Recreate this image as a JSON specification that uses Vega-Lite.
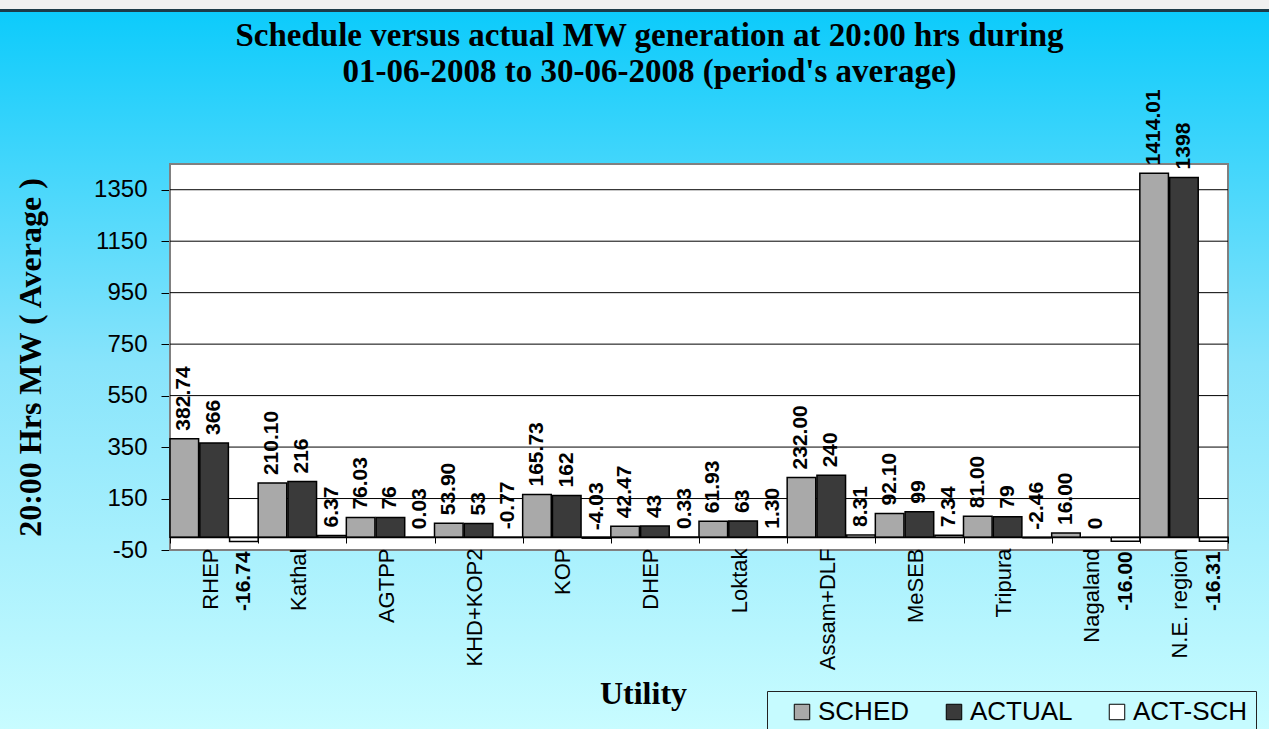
{
  "$schema": "https://vega.github.io/schema/vega-lite/v6.json",
  "width": 1269,
  "height": 729,
  "autosize": {"type": "none"},
  "padding": 0,
  "background": "#ffffff",
  "title": {
    "text": ["Schedule versus actual MW generation at 20:00 hrs during", "01-06-2008 to 30-06-2008 (period's average)"],
    "font": "Liberation Serif",
    "fontSize": 33,
    "fontWeight": "bold",
    "color": "black",
    "anchor": "middle",
    "frame": "group",
    "dx": 15,
    "lineHeight": 36,
    "offset": -89
  },
  "data": {"values": [
    {"utility": "RHEP", "series": "SCHED", "value": 382.74},
    {"utility": "RHEP", "series": "ACTUAL", "value": 366},
    {"utility": "RHEP", "series": "ACT-SCH", "value": -16.74},
    {"utility": "Kathal", "series": "SCHED", "value": 210.10},
    {"utility": "Kathal", "series": "ACTUAL", "value": 216},
    {"utility": "Kathal", "series": "ACT-SCH", "value": 6.37},
    {"utility": "AGTPP", "series": "SCHED", "value": 76.03},
    {"utility": "AGTPP", "series": "ACTUAL", "value": 76},
    {"utility": "AGTPP", "series": "ACT-SCH", "value": 0.03},
    {"utility": "KHD+KOP2", "series": "SCHED", "value": 53.90},
    {"utility": "KHD+KOP2", "series": "ACTUAL", "value": 53},
    {"utility": "KHD+KOP2", "series": "ACT-SCH", "value": -0.77},
    {"utility": "KOP", "series": "SCHED", "value": 165.73},
    {"utility": "KOP", "series": "ACTUAL", "value": 162},
    {"utility": "KOP", "series": "ACT-SCH", "value": -4.03},
    {"utility": "DHEP", "series": "SCHED", "value": 42.47},
    {"utility": "DHEP", "series": "ACTUAL", "value": 43},
    {"utility": "DHEP", "series": "ACT-SCH", "value": 0.33},
    {"utility": "Loktak", "series": "SCHED", "value": 61.93},
    {"utility": "Loktak", "series": "ACTUAL", "value": 63},
    {"utility": "Loktak", "series": "ACT-SCH", "value": 1.30},
    {"utility": "Assam+DLF", "series": "SCHED", "value": 232.00},
    {"utility": "Assam+DLF", "series": "ACTUAL", "value": 240},
    {"utility": "Assam+DLF", "series": "ACT-SCH", "value": 8.31},
    {"utility": "MeSEB", "series": "SCHED", "value": 92.10},
    {"utility": "MeSEB", "series": "ACTUAL", "value": 99},
    {"utility": "MeSEB", "series": "ACT-SCH", "value": 7.34},
    {"utility": "Tripura", "series": "SCHED", "value": 81.00},
    {"utility": "Tripura", "series": "ACTUAL", "value": 79},
    {"utility": "Tripura", "series": "ACT-SCH", "value": -2.46},
    {"utility": "Nagaland", "series": "SCHED", "value": 16.00},
    {"utility": "Nagaland", "series": "ACTUAL", "value": 0},
    {"utility": "Nagaland", "series": "ACT-SCH", "value": -16.00},
    {"utility": "N.E. region", "series": "SCHED", "value": 1414.01},
    {"utility": "N.E. region", "series": "ACTUAL", "value": 1398},
    {"utility": "N.E. region", "series": "ACT-SCH", "value": -16.31}
  ]},
  "layer": [
    {
      "data": {"values": [{"frame": "plot"}]},
      "mark": {"type": "rect", "fill": "white", "stroke": "#808080", "strokeWidth": 2},
      "encoding": {
        "x": {"datum": "RHEP", "type": "nominal", "bandPosition": 0},
        "x2": {"datum": "N.E. region", "bandPosition": 1},
        "y": {"datum": -50, "type": "quantitative"},
        "y2": {"datum": 1450}
      }
    },
    {
      "data": {"values": [{"g": 150}, {"g": 350}, {"g": 550}, {"g": 750}, {"g": 950}, {"g": 1150}, {"g": 1350}]},
      "mark": {"type": "rule", "color": "black", "strokeWidth": 1},
      "encoding": {
        "y": {"field": "g", "type": "quantitative"},
        "x": {"datum": "RHEP", "type": "nominal", "bandPosition": 0},
        "x2": {"datum": "N.E. region", "bandPosition": 1}
      }
    },
    {
      "encoding": {
        "x": {
          "field": "utility",
          "type": "nominal",
          "sort": null,
          "scale": {
            "domain": ["RHEP", "Kathal", "AGTPP", "KHD+KOP2", "KOP", "DHEP", "Loktak", "Assam+DLF", "MeSEB", "Tripura", "Nagaland", "N.E. region"],
            "range": [170, 1228],
            "paddingInner": 0,
            "paddingOuter": 0
          },
          "axis": {
            "title": "Utility",
            "titleFont": "Liberation Serif",
            "titleFontSize": 32,
            "titleFontWeight": "bold",
            "titleColor": "black",
            "titleX": 643,
            "titleY": 156,
            "titleBaseline": "middle",
            "titleAlign": "center",
            "labelAngle": -90,
            "labelAlign": "right",
            "labelBaseline": "middle",
            "labelFont": "Liberation Sans",
            "labelFontSize": 22,
            "labelColor": "black",
            "labelPadding": 5,
            "labelOffset": -4,
            "labelLimit": 0,
            "tickBand": "extent",
            "tickSize": 6,
            "tickColor": "black",
            "domainColor": "black",
            "domainWidth": 1.5,
            "offset": -192,
            "zindex": 1
          }
        },
        "xOffset": {
          "field": "series",
          "sort": ["SCHED", "ACTUAL", "ACT-SCH"],
          "scale": {"paddingInner": 0.04, "paddingOuter": 0}
        },
        "y": {
          "field": "value",
          "type": "quantitative",
          "scale": {"domain": [-50, 1450], "range": [550, 164], "nice": false, "zero": false},
          "axis": {
            "values": [-50, 150, 350, 550, 750, 950, 1150, 1350],
            "format": "d",
            "title": "20:00 Hrs MW ( Average )",
            "titleFont": "Liberation Serif",
            "titleFontSize": 32,
            "titleFontWeight": "bold",
            "titleColor": "black",
            "titlePadding": 46,
            "labelFont": "Liberation Sans",
            "labelFontSize": 24,
            "labelColor": "black",
            "labelPadding": 14,
            "tickSize": 9,
            "tickColor": "black",
            "domain": false,
            "grid": false,
            "offset": -170
          }
        }
      },
      "layer": [
        {
          "mark": {"type": "bar", "stroke": "black", "strokeWidth": 1.5},
          "encoding": {
            "y2": {"datum": 0},
            "color": {
              "field": "series",
              "type": "nominal",
              "scale": {"domain": ["SCHED", "ACTUAL", "ACT-SCH"], "range": ["#a9a9a9", "#3a3a3a", "#ffffff"]},
              "legend": {
                "orient": "none",
                "legendX": 767,
                "legendY": 691,
                "direction": "horizontal",
                "title": null,
                "labelFont": "Liberation Sans",
                "labelFontSize": 26,
                "labelColor": "black",
                "labelOffset": 3,
                "symbolType": "square",
                "symbolSize": 240,
                "symbolOffset": 14,
                "symbolStrokeColor": "black",
                "symbolStrokeWidth": 1,
                "symbolOpacity": 1,
                "fillColor": "#c6fbff",
                "strokeColor": "#222222",
                "padding": 8,
                "columnPadding": 17
              }
            }
          }
        },
        {
          "transform": [{"filter": "datum.series !== 'ACTUAL' && datum.value > -10"}],
          "mark": {"type": "text", "angle": 270, "align": "left", "baseline": "middle", "dx": 8, "font": "Liberation Sans", "fontSize": 21, "fontWeight": "bold", "color": "black"},
          "encoding": {"text": {"field": "value", "type": "quantitative", "format": ".2f"}}
        },
        {
          "transform": [{"filter": "datum.series === 'ACTUAL'"}],
          "mark": {"type": "text", "angle": 270, "align": "left", "baseline": "middle", "dx": 8, "font": "Liberation Sans", "fontSize": 21, "fontWeight": "bold", "color": "black"},
          "encoding": {"text": {"field": "value", "type": "quantitative", "format": "d"}}
        },
        {
          "transform": [{"filter": "datum.value <= -10"}],
          "mark": {"type": "text", "angle": 270, "align": "right", "baseline": "middle", "dx": -10, "font": "Liberation Sans", "fontSize": 21, "fontWeight": "bold", "color": "black"},
          "encoding": {"text": {"field": "value", "type": "quantitative", "format": ".2f"}}
        }
      ]
    }
  ],
  "config": {
    "locale": {"number": {"decimal": ".", "thousands": ",", "grouping": [3], "currency": ["$", ""], "minus": "-"}},
    "view": {
      "stroke": null,
      "fill": {"gradient": "linear", "x1": 0, "y1": 0, "x2": 0, "y2": 1, "stops": [
        {"offset": 0, "color": "#f0f0f0"},
        {"offset": 0.012, "color": "#f0f0f0"},
        {"offset": 0.0125, "color": "#1d3b48"},
        {"offset": 0.016, "color": "#1d3b48"},
        {"offset": 0.0165, "color": "#0dcbfb"},
        {"offset": 0.5, "color": "#88e4fb"},
        {"offset": 1, "color": "#c8fcff"}
      ]}
    }
  }
}
